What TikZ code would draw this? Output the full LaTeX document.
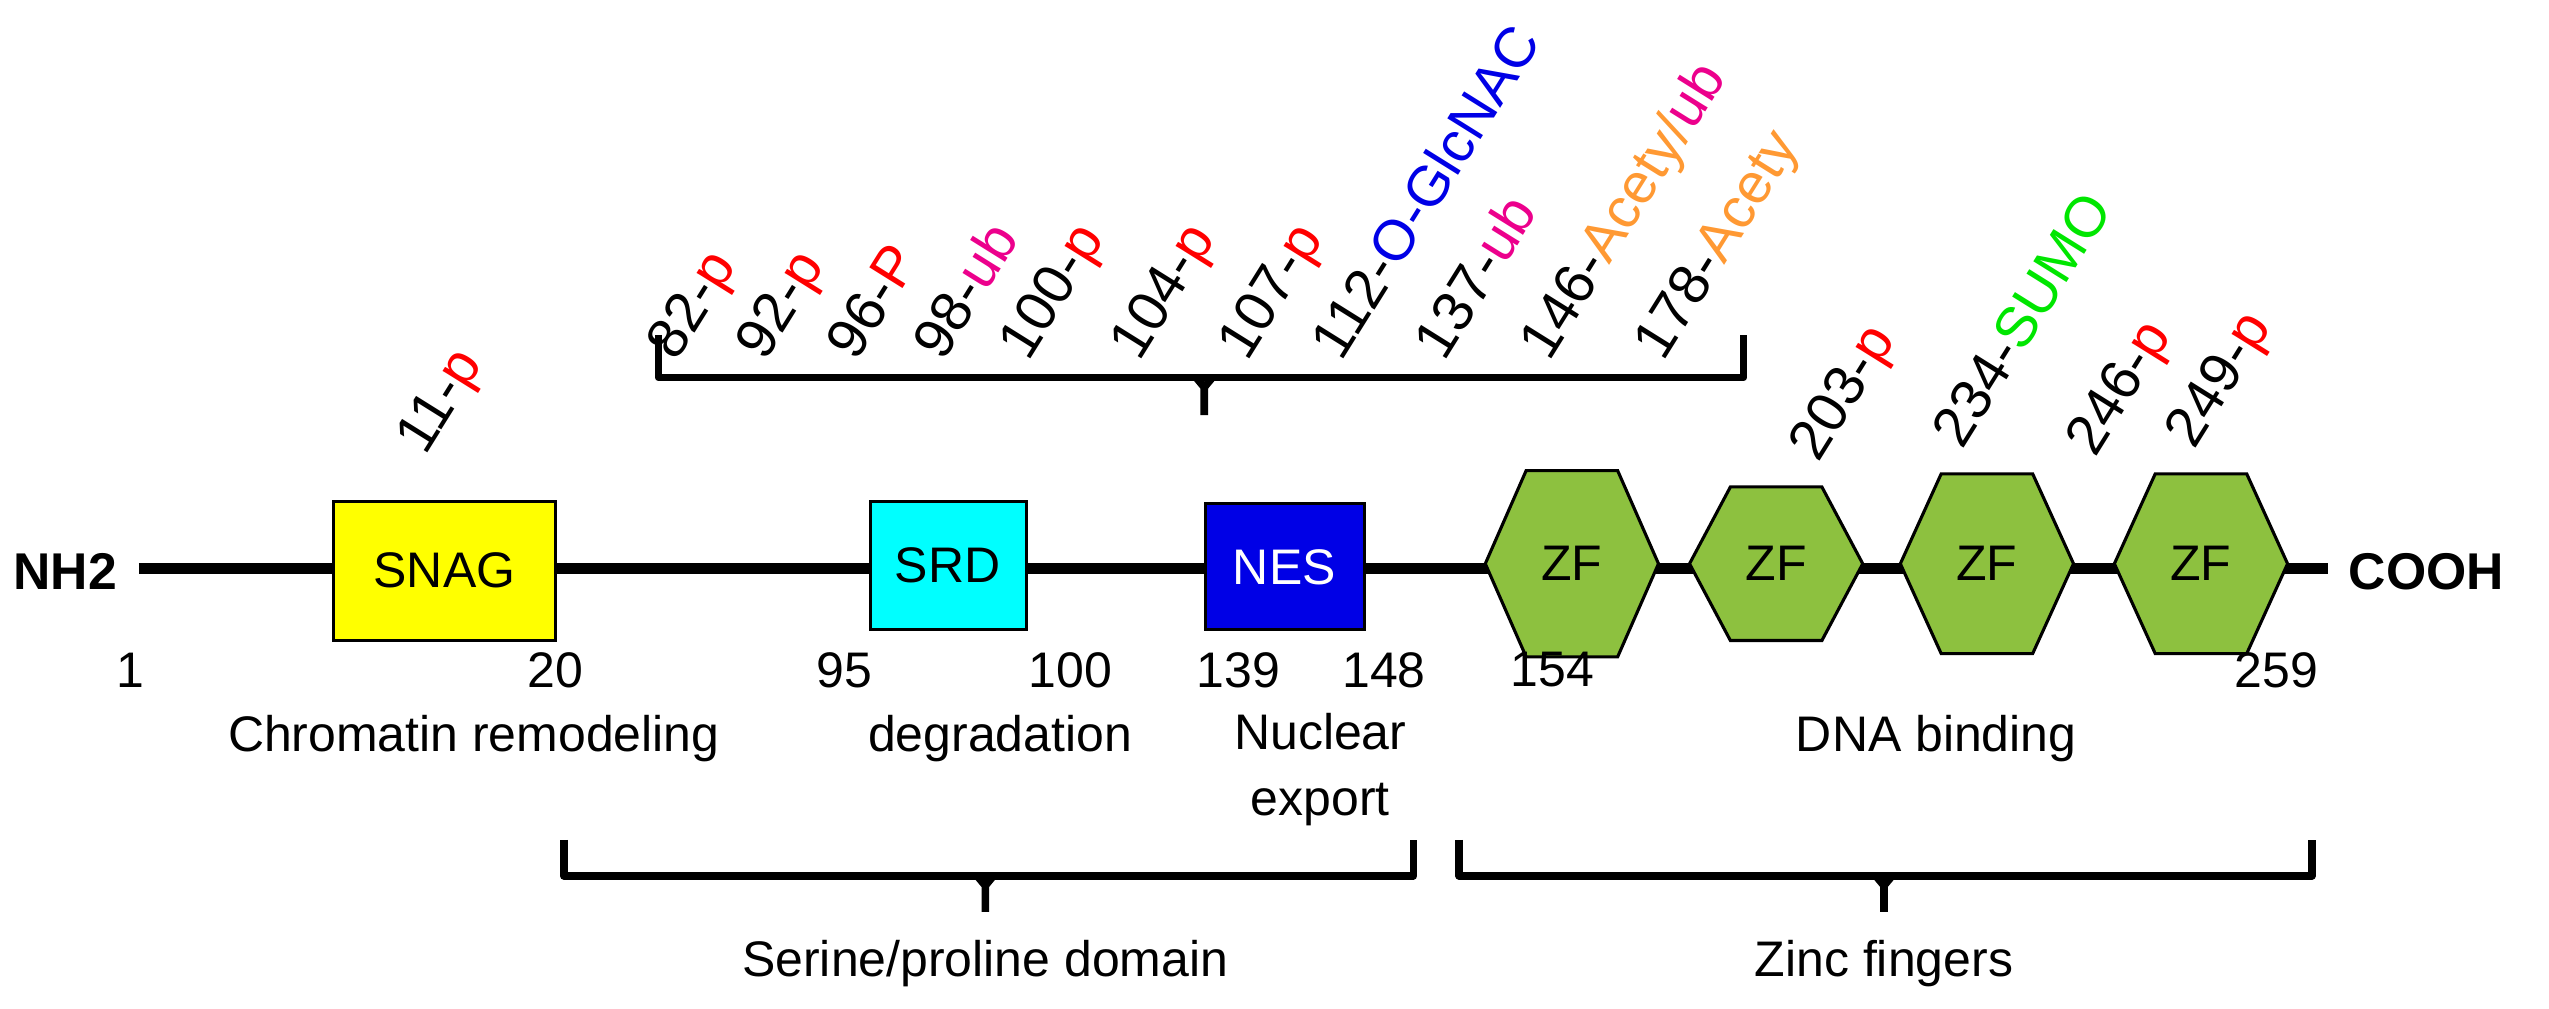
\documentclass[tikz,border=0pt]{standalone}
\usepackage{fontspec}
\setmainfont{Liberation Sans}
\begin{document}
\begin{tikzpicture}[x=0.016667cm,y=-0.016667cm,
  every node/.style={font=\fontsize{14.5}{17}\selectfont,inner sep=0pt},
  box/.style={draw=black,line width=0.9pt,minimum width=0pt},
  ptm/.style={rotate=58,anchor=base west,font=\fontsize{16.5}{19}\selectfont},
  brace/.style={line width=2.2pt,line join=round},
  hexa/.style={draw=black,line width=0.9pt,fill=zfgreen}]
\definecolor{zfgreen}{RGB}{141,193,63}
\definecolor{snag}{RGB}{255,255,0}
\definecolor{srd}{RGB}{0,255,255}
\definecolor{nes}{RGB}{0,0,230}
\definecolor{acety}{RGB}{255,153,51}
\definecolor{sumo}{RGB}{0,230,0}
\useasboundingbox (0,0) rectangle (1560,617);
% backbone
\coordinate (L) at (85,348);
\coordinate (R) at (1425,348);
\draw[line width=3pt] (L) -- (R);
\node[font=\fontsize{15}{18}\selectfont\bfseries] (nh2) at (40,350) {NH2};
\node[font=\fontsize{15}{18}\selectfont\bfseries] (cooh) at (1485,350) {COOH};
% boxes
\filldraw[box,fill=snag] (204,307) rectangle (340,392);
\node (snag) at (272,349) {SNAG};
\filldraw[box,fill=srd] (533,307) rectangle (628,385);
\node (srd) at (580,346) {SRD};
\filldraw[box,fill=nes] (738,308) rectangle (835,385);
\node[text=white] (nes) at (786,347) {NES};
% hexagons
\foreach \c/\t/\n in {962/288/1,1087/298/2,1216/290/3,1347/290/4}{
  \pgfmathsetmacro{\b}{690-\t}
  \filldraw[hexa] (\c-53,345) -- (\c-28,\t) -- (\c+28,\t) -- (\c+53,345) -- (\c+28,\b) -- (\c-28,\b) -- cycle;
  \node (zf\n) at (\c,345) {ZF};
}
% numbers
\node (n1) at (80,410) {1};
\node (n20) at (340,410) {20};
\node (n95) at (517,410) {95};
\node (n100) at (655,410) {100};
\node (n139) at (758,410) {139};
\node (n148) at (847,410) {148};
\node (n154) at (950,410) {154};
\node (n259) at (1393,410) {259};
% labels
\node (chr) at (290,452) {Chromatin remodeling};
\node (deg) at (612,452) {degradation};
\node[align=center] (nexp) at (808,471) {Nuclear\\[2pt]export};
\node (dna) at (1185,452) {DNA binding};
% lower braces
\draw[brace] (345,514) -- (345,536) -- (865,536) -- (865,514);
\draw[brace] (598,536) -- (603,542) -- (603,558);
\draw[brace] (608,536) -- (603,542);
\node (ser) at (603,590) {Serine/proline domain};
\draw[brace] (893,514) -- (893,536) -- (1415,536) -- (1415,514);
\draw[brace] (1148,536) -- (1153,542) -- (1153,558);
\draw[brace] (1158,536) -- (1153,542);
\node (zinc) at (1153,590) {Zinc fingers};
% upper brace
\draw[brace] (403,205) -- (403,231) -- (1067,231) -- (1067,205);
\draw[brace] (732,231) -- (737,237) -- (737,254);
\draw[brace] (742,231) -- (737,237);
% PTM labels
\node[ptm] (p11) at (260,280) {11-\textcolor{red}{p}};
\node[ptm] (p82) at (414,222) {82-\textcolor{red}{p}};
\node[ptm] (p92) at (468,222) {92-\textcolor{red}{p}};
\node[ptm] (p96) at (524,222) {96-\textcolor{red}{P}};
\node[ptm] (p98) at (577,222) {98-\textcolor{magenta}{ub}};
\node[ptm] (p100) at (629,222) {100-\textcolor{red}{p}};
\node[ptm] (p104) at (697,222) {104-\textcolor{red}{p}};
\node[ptm] (p107) at (763,222) {107-\textcolor{red}{p}};
\node[ptm] (p112) at (821,222) {112-\textcolor{nes}{O-GlcNAC}};
\node[ptm] (p137) at (884,222) {137-\textcolor{magenta}{ub}};
\node[ptm] (p146) at (948,222) {146-\textcolor{acety}{Acety/}\textcolor{magenta}{ub}};
\node[ptm] (p178) at (1018,222) {178-\textcolor{acety}{Acety}};
\node[ptm] (p203) at (1113,284) {203-\textcolor{red}{p}};
\node[ptm] (p234) at (1201,276) {234-\textcolor{sumo}{SUMO}};
\node[ptm] (p246) at (1282,281) {246-\textcolor{red}{p}};
\node[ptm] (p249) at (1343,276) {249-\textcolor{red}{p}};
\end{tikzpicture}
\end{document}
